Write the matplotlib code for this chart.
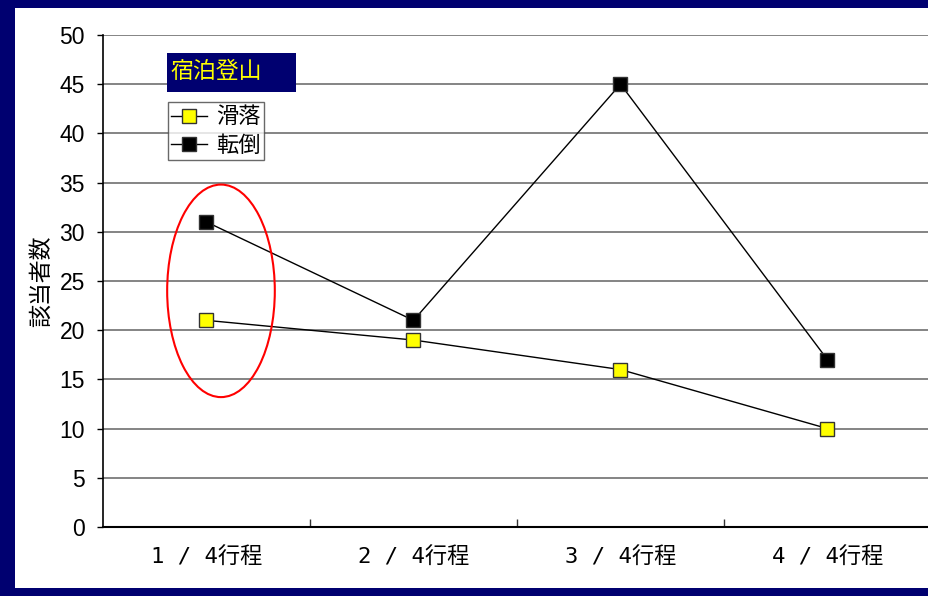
import matplotlib.pyplot as plt
from matplotlib.patches import Ellipse, Rectangle

plt.rcParams["font.family"] = ["Liberation Sans", "Noto Sans CJK JP", "DejaVu Sans"]

categories = ["1 / 4行程", "2 / 4行程", "3 / 4行程", "4 / 4行程"]
slip = [21, 19, 16, 10]      # 滑落
fall = [31, 21, 45, 17]      # 転倒
title_text = "宿泊登山"
ylabel_text = "該当者数"

NAVY = "#000070"
W, H = 929, 596

fig = plt.figure(figsize=(W / 100, H / 100), dpi=100)
fig.patch.set_facecolor(NAVY)

# white inner panel
bg = fig.add_axes([15 / W, 8 / H, 1, 580 / H], zorder=-1)
bg.set_axis_off()
bg.add_patch(Rectangle((0, 0), 1, 1, transform=bg.transAxes, facecolor="white", edgecolor="none"))

ax = fig.add_axes([103 / W, 1 - 527 / H, 828 / W, 492 / H])
ax.set_facecolor("none")

x = list(range(len(categories)))
ax.plot(x, slip, color="black", lw=1, marker="s", ms=9.5, mfc="#ffff00", mec="#333333",
        mew=1, label="滑落", zorder=3)
ax.plot(x, fall, color="black", lw=1, marker="s", ms=9.5, mfc="black", mec="#333333",
        mew=1, label="転倒", zorder=3)

ax.set_xlim(-0.5, 3.5)
ax.set_ylim(0, 50)
ax.set_yticks(range(0, 51, 5))
ax.yaxis.grid(True, color="#707070", lw=1.2)
ax.set_axisbelow(True)
ax.tick_params(axis="y", length=4, width=1, labelsize=16.5, pad=9)

ax.set_xticks(x)
ax.set_xticklabels(categories, fontsize=16, family=["DejaVu Sans Mono", "Noto Sans CJK JP"])
ax.tick_params(axis="x", length=0, pad=14)
ax.set_xticks([0.5, 1.5, 2.5], minor=True)
ax.tick_params(axis="x", which="minor", direction="in", length=6, width=1, color="#333333")

for side in ["top", "right"]:
    ax.spines[side].set_visible(False)
ax.spines["left"].set_color("black")
ax.spines["bottom"].set_color("black")
ax.spines["left"].set_linewidth(1.2)
ax.spines["bottom"].set_linewidth(1.5)

ax.set_ylabel(ylabel_text, fontsize=16.5, family=["Noto Sans CJK JP"])
ax.yaxis.set_label_coords(-0.060, 0.5)

# red ellipse highlighting the first stage
ax.add_patch(Ellipse((0.07, 24.0), 0.52, 21.6, fill=False, edgecolor="red", lw=1.5, zorder=4))

# title box
fig.patches.append(Rectangle((167 / W, 1 - 92 / H), 129 / W, 39 / H, transform=fig.transFigure,
                             facecolor=NAVY, edgecolor="none", zorder=5))
fig.text(171 / W, 1 - 72 / H, title_text, fontsize=16.5, color="#ffff00",
         family=["Noto Sans CJK JP"], va="center", ha="left", zorder=6)

leg = ax.legend(loc="upper left", bbox_to_anchor=((168 - 103) / 828, (527 - 102) / 492),
                prop={"family": "Noto Sans CJK JP", "size": 16}, frameon=True, fancybox=False,
                handlelength=1.6, handletextpad=0.4, borderpad=0.15, labelspacing=0.25,
                borderaxespad=0)
leg.get_frame().set_edgecolor("#444444")
leg.get_frame().set_linewidth(1)

fig.savefig("out.png", dpi=100, facecolor=fig.get_facecolor())
